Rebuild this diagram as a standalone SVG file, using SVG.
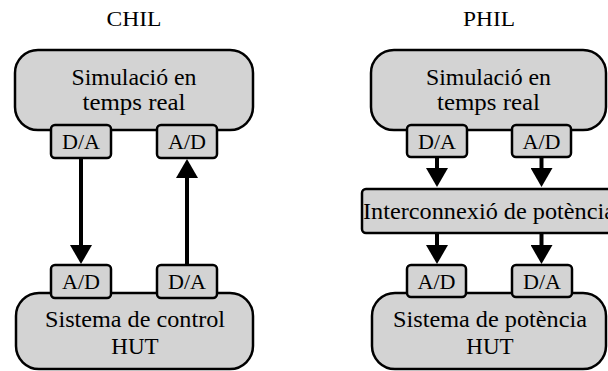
<svg xmlns="http://www.w3.org/2000/svg" width="608" height="371" viewBox="0 0 608 371">
  <defs>
    <style>
      .big { fill: #d3d3d3; stroke: #000; stroke-width: 2.5; }
      .port { fill: #d3d3d3; stroke: #000; stroke-width: 2.5; }
      .t { font-family: "Liberation Serif", "Times New Roman", serif; fill: #000; text-anchor: middle; }
      .title { font-size: 20px; }
      .body { font-size: 23px; }
      .small { font-size: 21px; }
      .wire { stroke: #000; stroke-width: 4; fill: none; marker-end: url(#head); }
    </style>
    <marker id="head" markerUnits="userSpaceOnUse" markerWidth="19" markerHeight="22" refX="0" refY="11" orient="auto" viewBox="0 0 19 22">
      <path d="M0,0 L19,11 L0,22 Z" fill="#000"/>
    </marker>
  </defs>

  <rect width="608" height="371" fill="#fff"/>

  <!-- titles -->
  <text class="t title" x="134" y="26" textLength="55" lengthAdjust="spacingAndGlyphs">CHIL</text>
  <text class="t title" x="489" y="26" textLength="52" lengthAdjust="spacingAndGlyphs">PHIL</text>

  <!-- CHIL: real-time simulation -->
  <g id="chil-sim">
    <rect class="big" x="15" y="50" width="238" height="80" rx="23"/>
    <text class="t body" x="134" y="85" textLength="125" lengthAdjust="spacingAndGlyphs">Simulació en</text>
    <text class="t body" x="134" y="110" textLength="103" lengthAdjust="spacingAndGlyphs">temps real</text>
  </g>
  <g id="chil-sim-da">
    <rect class="port" x="51" y="125" width="60" height="33" rx="4"/>
    <text class="t small" x="81" y="148.5" textLength="38" lengthAdjust="spacingAndGlyphs">D/A</text>
  </g>
  <g id="chil-sim-ad">
    <rect class="port" x="157" y="125" width="60" height="33" rx="4"/>
    <text class="t small" x="187" y="148.5" textLength="38" lengthAdjust="spacingAndGlyphs">A/D</text>
  </g>

  <!-- CHIL: control system under test -->
  <g id="chil-hut">
    <rect class="big" x="16" y="293" width="237" height="76" rx="23"/>
    <text class="t body" x="135" y="326.5" textLength="180" lengthAdjust="spacingAndGlyphs">Sistema de control</text>
    <text class="t body" x="135" y="353.5">HUT</text>
  </g>
  <g id="chil-hut-ad">
    <rect class="port" x="51" y="265" width="60" height="33" rx="4"/>
    <text class="t small" x="81" y="288.5" textLength="38" lengthAdjust="spacingAndGlyphs">A/D</text>
  </g>
  <g id="chil-hut-da">
    <rect class="port" x="157" y="265" width="60" height="33" rx="4"/>
    <text class="t small" x="187" y="288.5" textLength="38" lengthAdjust="spacingAndGlyphs">D/A</text>
  </g>

  <!-- PHIL: real-time simulation -->
  <g id="phil-sim">
    <rect class="big" x="371" y="50" width="235" height="80" rx="23"/>
    <text class="t body" x="488.5" y="85" textLength="125" lengthAdjust="spacingAndGlyphs">Simulació en</text>
    <text class="t body" x="488.5" y="110" textLength="103" lengthAdjust="spacingAndGlyphs">temps real</text>
  </g>
  <g id="phil-sim-da">
    <rect class="port" x="407" y="125" width="60" height="32" rx="4"/>
    <text class="t small" x="437" y="148.5" textLength="38" lengthAdjust="spacingAndGlyphs">D/A</text>
  </g>
  <g id="phil-sim-ad">
    <rect class="port" x="512" y="125" width="59" height="32" rx="4"/>
    <text class="t small" x="541.5" y="148.5" textLength="38" lengthAdjust="spacingAndGlyphs">A/D</text>
  </g>

  <!-- PHIL: power interface -->
  <g id="phil-interface">
    <rect class="port" x="362" y="189" width="260" height="44" rx="4"/>
    <text class="t body" x="363" y="218.5" style="text-anchor:start" textLength="252" lengthAdjust="spacingAndGlyphs">Interconnexió de potència</text>
  </g>

  <!-- PHIL: power system under test -->
  <g id="phil-hut">
    <rect class="big" x="372" y="293" width="234" height="76" rx="23"/>
    <text class="t body" x="490" y="326.5" textLength="194" lengthAdjust="spacingAndGlyphs">Sistema de potència</text>
    <text class="t body" x="490" y="353.5">HUT</text>
  </g>
  <g id="phil-hut-ad">
    <rect class="port" x="407" y="265" width="59" height="32" rx="4"/>
    <text class="t small" x="436.5" y="288.5" textLength="38" lengthAdjust="spacingAndGlyphs">A/D</text>
  </g>
  <g id="phil-hut-da">
    <rect class="port" x="512" y="265" width="60" height="32" rx="4"/>
    <text class="t small" x="542" y="288.5" textLength="38" lengthAdjust="spacingAndGlyphs">D/A</text>
  </g>

  <!-- connectors -->
  <g id="connectors">
    <line class="wire" x1="81" y1="158" x2="81" y2="245"/>
    <line class="wire" x1="187" y1="265" x2="187" y2="178"/>
    <line class="wire" x1="437" y1="157" x2="437" y2="168"/>
    <line class="wire" x1="541.5" y1="157" x2="541.5" y2="168"/>
    <line class="wire" x1="437" y1="233" x2="437" y2="245"/>
    <line class="wire" x1="541.5" y1="233" x2="541.5" y2="245"/>
  </g>
</svg>
